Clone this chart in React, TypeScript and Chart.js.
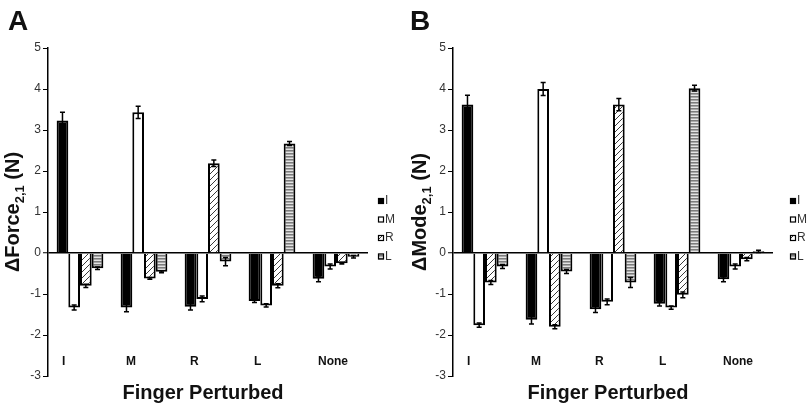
import React, { useEffect, useRef } from 'react';
import { Chart, registerables } from 'chart.js';

Chart.register(...registerables);

const categories = ['I', 'M', 'R', 'L', 'None'];
const seriesNames = ['I', 'M', 'R', 'L'];
const yMin = -3;
const yMax = 5;

// Panel A: ΔForce
const forceI = [3.23, -1.33, -1.31, -1.17, -0.63];
const forceM = [-1.33, 3.43, -1.12, -1.28, -0.33];
const forceR = [-0.8, -0.62, 2.19, -0.8, -0.25];
const forceL = [-0.37, -0.46, -0.21, 2.67, -0.09];
const forceErrI = [0.2, 0.1, 0.08, 0.04, 0.07];
const forceErrM = [0.06, 0.15, 0.07, 0.04, 0.06];
const forceErrR = [0.04, 0.02, 0.08, 0.05, 0.02];
const forceErrL = [0.03, 0.02, 0.1, 0.05, 0.03];

// Panel B: ΔMode
const modeI = [3.62, -1.63, -1.37, -1.24, -0.64];
const modeM = [-1.76, 4.0, -1.19, -1.33, -0.33];
const modeR = [-0.72, -1.8, 3.62, -1.02, -0.15];
const modeL = [-0.33, -0.45, -0.72, 4.02, 0.04];
const modeErrI = [0.23, 0.1, 0.08, 0.05, 0.06];
const modeErrM = [0.05, 0.16, 0.07, 0.04, 0.06];
const modeErrR = [0.05, 0.05, 0.15, 0.07, 0.04];
const modeErrL = [0.05, 0.05, 0.12, 0.07, 0.03];

const FONT = "'Liberation Sans', Arial, sans-serif";

function diagPattern(ctx: CanvasRenderingContext2D) {
  const c = document.createElement('canvas');
  c.width = 6;
  c.height = 6;
  const g = c.getContext('2d')!;
  g.fillStyle = '#fff';
  g.fillRect(0, 0, 6, 6);
  g.strokeStyle = '#3a3a3a';
  g.lineWidth = 1;
  g.beginPath();
  g.moveTo(0, 6);
  g.lineTo(6, 0);
  g.moveTo(-1, 1);
  g.lineTo(1, -1);
  g.moveTo(5, 7);
  g.lineTo(7, 5);
  g.stroke();
  return ctx.createPattern(c, 'repeat')!;
}

function horizPattern(ctx: CanvasRenderingContext2D) {
  const c = document.createElement('canvas');
  c.width = 4;
  c.height = 3;
  const g = c.getContext('2d')!;
  g.fillStyle = '#7c7c7c';
  g.fillRect(0, 0, 4, 1);
  g.fillStyle = '#a8a8a8';
  g.fillRect(0, 1, 4, 1);
  g.fillStyle = '#e4e4e4';
  g.fillRect(0, 2, 4, 1);
  return ctx.createPattern(c, 'repeat')!;
}

const overlayPlugin = {
  id: 'overlay',
  afterDatasetsDraw(chart: any, _args: any, opts: any) {
    const ctx: CanvasRenderingContext2D = chart.ctx;
    const y = chart.scales.y;
    chart.data.datasets.forEach((ds: any, di: number) => {
      const meta = chart.getDatasetMeta(di);
      const errs: number[] = opts.errors[di];
      meta.data.forEach((bar: any, i: number) => {
        const v = ds.data[i] as number;
        const e = errs[i];
        const cx = bar.x;
        const yt = y.getPixelForValue(v + e);
        const yb = y.getPixelForValue(v - e);
        ctx.save();
        ctx.strokeStyle = '#000';
        ctx.lineWidth = 1.5;
        ctx.beginPath();
        ctx.moveTo(cx, yt);
        ctx.lineTo(cx, yb);
        ctx.moveTo(cx - 2.5, yt);
        ctx.lineTo(cx + 2.5, yt);
        ctx.moveTo(cx - 2.5, yb);
        ctx.lineTo(cx + 2.5, yb);
        ctx.stroke();
        ctx.restore();
      });
    });
  },
  afterDraw(chart: any, _args: any, opts: any) {
    const ctx: CanvasRenderingContext2D = chart.ctx;
    const x = chart.scales.x;
    const area = chart.chartArea;
    ctx.save();
    // category labels
    ctx.fillStyle = '#111';
    ctx.font = `bold 12px ${FONT}`;
    ctx.textAlign = 'left';
    ctx.textBaseline = 'middle';
    (chart.data.labels as string[]).forEach((lab, i) => {
      ctx.fillText(lab, x.getPixelForValue(i) - 18, 362);
    });
    // x title
    ctx.font = `bold 20px ${FONT}`;
    ctx.textAlign = 'center';
    ctx.textBaseline = 'alphabetic';
    ctx.fillText(opts.xTitle, (area.left + area.right) / 2 - 5, 399);
    // panel letter
    ctx.font = `bold 28px ${FONT}`;
    ctx.textAlign = 'left';
    ctx.fillText(opts.letter, opts.letterX, 30);
    // y title with subscript
    const cy = (area.top + area.bottom) / 2;
    ctx.translate(opts.yTitleX, cy);
    ctx.rotate(-Math.PI / 2);
    const mainFont = `bold 20px ${FONT}`;
    const subFont = `bold 13px ${FONT}`;
    ctx.font = mainFont;
    const w1 = ctx.measureText(opts.yMain).width;
    const w3 = ctx.measureText(' (N)').width;
    ctx.font = subFont;
    const w2 = ctx.measureText('2,1').width;
    let sx = -(w1 + w2 + w3) / 2;
    ctx.textAlign = 'left';
    ctx.font = mainFont;
    ctx.fillText(opts.yMain, sx, 0);
    sx += w1;
    ctx.font = subFont;
    ctx.fillText('2,1', sx, 5);
    sx += w2;
    ctx.font = mainFont;
    ctx.fillText(' (N)', sx, 0);
    ctx.setTransform(1, 0, 0, 1, 0, 0);
    // legend
    ctx.font = `12px ${FONT}`;
    ctx.textBaseline = 'middle';
    chart.data.datasets.forEach((ds: any, di: number) => {
      const ly = 201 + di * 18.5;
      ctx.fillStyle = ds.backgroundColor;
      ctx.fillRect(opts.legendX, ly - 3, 6, 6);
      ctx.strokeStyle = '#000';
      ctx.lineWidth = 1.2;
      ctx.strokeRect(opts.legendX + 0.5, ly - 2.5, 5, 5);
      ctx.fillStyle = '#333';
      ctx.fillText(ds.label, opts.legendX + 7, ly);
    });
    ctx.restore();
  },
};

type PanelProps = {
  letter: string;
  letterX: number;
  yMain: string;
  yTitleX: number;
  legendX: number;
  width: number;
  padRight: number;
  series: number[][];
  errors: number[][];
};

function Panel(p: PanelProps) {
  const ref = useRef<HTMLCanvasElement>(null);
  useEffect(() => {
    const canvas = ref.current!;
    const ctx = canvas.getContext('2d')!;
    const fills = ['#000000', '#ffffff', diagPattern(ctx), horizPattern(ctx)];
    const chart = new Chart(canvas, {
      type: 'bar',
      data: {
        labels: categories,
        datasets: seriesNames.map((name, k) => ({
          label: name,
          data: p.series[k],
          backgroundColor: fills[k] as any,
          borderColor: '#000',
          borderWidth: 2,
          categoryPercentage: 0.73,
          barPercentage: 1.0,
        })),
      },
      options: {
        responsive: false,
        animation: false,
        devicePixelRatio: 1,
        layout: { padding: { left: 0, top: 48, right: p.padRight, bottom: 33 } },
        plugins: {
          legend: { display: false },
          tooltip: { enabled: false },
          overlay: {
            errors: p.errors,
            letter: p.letter,
            letterX: p.letterX,
            yMain: p.yMain,
            yTitleX: p.yTitleX,
            legendX: p.legendX,
            xTitle: 'Finger Perturbed',
          },
        } as any,
        scales: {
          x: { display: false, offset: true },
          y: {
            min: yMin,
            max: yMax,
            afterFit: (s: any) => {
              s.width = 48;
            },
            ticks: {
              stepSize: 1,
              padding: 2,
              color: '#333',
              font: { family: FONT, size: 12 },
            },
            border: { display: true, color: '#000', width: 1.5 },
            grid: {
              drawOnChartArea: true,
              drawTicks: true,
              tickLength: 5,
              tickColor: '#000',
              tickWidth: 1,
              color: (c: any) => (c.tick && c.tick.value === 0 ? '#000' : 'rgba(0,0,0,0)'),
              lineWidth: (c: any) => (c.tick && c.tick.value === 0 ? 1.5 : 1),
            },
          },
        },
      },
      plugins: [overlayPlugin as any],
    });
    return () => chart.destroy();
  }, []);
  return <canvas ref={ref} width={p.width} height={409} style={{ display: 'block' }} />;
}

export default function App() {
  return (
    <div
      style={{
        position: 'fixed',
        left: 0,
        top: 0,
        width: 807,
        height: 409,
        overflow: 'hidden',
        background: '#fff',
        display: 'flex',
      }}
    >
      <Panel
        letter="A"
        letterX={8}
        yMain="ΔForce"
        yTitleX={19}
        legendX={378}
        width={405}
        padRight={37}
        series={[forceI, forceM, forceR, forceL]}
        errors={[forceErrI, forceErrM, forceErrR, forceErrL]}
      />
      <Panel
        letter="B"
        letterX={5}
        yMain="ΔMode"
        yTitleX={21}
        legendX={385}
        width={402}
        padRight={34}
        series={[modeI, modeM, modeR, modeL]}
        errors={[modeErrI, modeErrM, modeErrR, modeErrL]}
      />
    </div>
  );
}
